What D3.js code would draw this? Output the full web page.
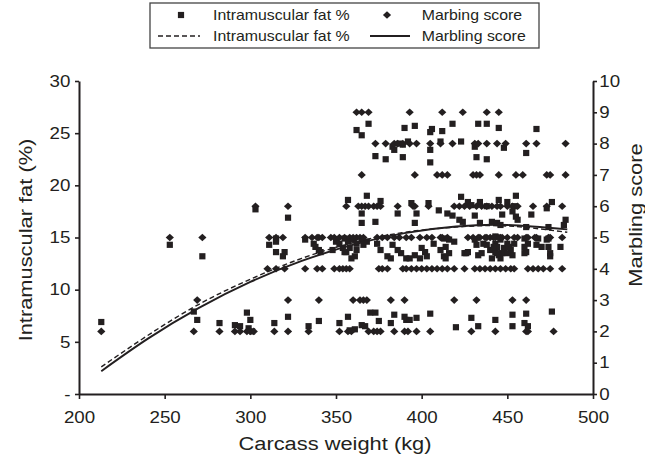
<!DOCTYPE html>
<html>
<head>
<meta charset="utf-8">
<script src="https://cdn.jsdelivr.net/npm/d3@7"></script>
<style>
body { margin: 0; background: #fff; }
text { font-family: "Liberation Sans", Arial, sans-serif; fill: #231f20; }
</style>
</head>
<body>
<svg id="chart" width="645" height="456"></svg>
<script>
// tick labels
const xTicks = [200, 250, 300, 350, 400, 450, 500];
const imfTicks = [0, 5, 10, 15, 20, 25, 30];
const msTicks = [0, 1, 2, 3, 4, 5, 6, 7, 8, 9, 10];

// intramuscular fat %, [carcass weight, imf]
const imfPoints = [
    [213, 6.9], [253, 14.3], [272, 13.2], [267, 7.9], [269, 7.1], [282, 6.8], [291, 6.6], [294, 6.5],
    [298, 7.8], [300, 7.1], [299, 6.3], [301, 6.0], [303, 17.7], [314, 6.8], [322, 7.4], [322, 16.9],
    [334, 6.5], [340, 7.0], [352, 6.8], [357, 7.4],
    [315, 14.9], [315, 14.6], [311, 14.3], [315, 13.6], [320, 13.6], [319, 13.2],
    [332, 14.8], [337, 14.4], [338, 14.1], [340, 13.8], [341, 13.6], [348, 13.8], [350, 14.6], [352, 14.4],
    [354, 14.0], [356, 13.6], [359, 13.0], [361, 13.2], [362, 13.8], [366, 14.3], [368, 14.6],
    [357, 18.6], [365, 17.3], [365, 16.4], [373, 16.5], [368, 19.0], [376, 18.5], [386, 17.3], [394, 18.3],
    [397, 17.3], [396, 16.4], [404, 18.3], [410, 17.6], [415, 17.3], [418, 17.1], [423, 18.9], [424, 16.5],
    [427, 18.4], [429, 18.1], [431, 17.1], [434, 18.4], [438, 18.0], [434, 16.4], [441, 16.5], [444, 16.4],
    [455, 19.0], [445, 18.6], [450, 18.4], [454, 18.0], [453, 17.5], [455, 17.0], [456, 16.7], [464, 17.2],
    [473, 17.8], [476, 18.4], [422, 16.7], [446, 16.2], [447, 17.2], [461, 16.0], [474, 16.0],
    [413, 14.9], [416, 14.8], [419, 14.6], [414, 14.1], [413, 13.2], [416, 13.5], [426, 13.5], [431, 14.8],
    [432, 14.3], [433, 13.3], [435, 13.5], [436, 14.4], [440, 13.8], [443, 14.4], [444, 14.1], [447, 13.5],
    [450, 14.4], [452, 13.8], [453, 13.3], [460, 14.9], [462, 14.4], [461, 13.6], [467, 14.3], [468, 14.9],
    [470, 14.1], [474, 14.1], [475, 13.2], [473, 14.8],
    [355, 14.9], [357, 14.6], [360, 14.8], [362, 14.4], [365, 14.8], [358, 14.0], [355, 13.6], [374, 14.4],
    [376, 13.8], [380, 13.2], [382, 13.0], [383, 14.3], [386, 13.8], [388, 13.5], [391, 13.0], [393, 13.0],
    [396, 13.3], [399, 13.0], [400, 14.0], [402, 13.6], [403, 13.2], [407, 14.4], [411, 13.8], [414, 13.0],
    [425, 13.5], [427, 13.6], [438, 14.3], [441, 13.0], [443, 13.6], [445, 13.3], [446, 13.0],
    [484, 16.7], [483, 16.2], [481, 14.1], [474, 14.9], [475, 13.5], [460, 14.1], [460, 13.5],
    [443, 15.1], [446, 14.8], [442, 14.1], [448, 14.0], [444, 13.5], [451, 14.1], [454, 14.4], [450, 13.5],
    [476, 7.9], [453, 7.6], [461, 7.7], [443, 7.1], [453, 6.5], [460, 6.8], [462, 6.5], [429, 7.3],
    [361, 6.2], [358, 6.1], [365, 6.6], [367, 6.5], [370, 7.8], [373, 7.8], [375, 7.0], [382, 6.8],
    [384, 7.6], [390, 7.4], [391, 7.1], [393, 7.1], [397, 7.3], [405, 7.7], [420, 6.4], [433, 6.5],
    [369, 25.9], [362, 25.3], [365, 24.8], [390, 25.5], [396, 25.7], [405, 25.1], [406, 25.4], [412, 25.2],
    [418, 25.9], [433, 25.9], [438, 25.9], [445, 25.5], [383, 23.7], [384, 23.4], [387, 24.0], [389, 23.9],
    [392, 24.2], [405, 23.4], [411, 24.2], [373, 22.8], [379, 22.5], [389, 22.7], [405, 22.2], [432, 22.7],
    [438, 22.5], [467, 25.4], [448, 23.6], [461, 23.1], [423, 24.2], [431, 23.7]
];

// marbling score: carcass weights of the animals at each score
const ms2 = [213, 267, 282, 291, 294, 298, 300, 302, 314, 322, 334, 352, 357, 359, 369, 372, 374, 376,
    384, 390, 392, 397, 405, 429, 443, 461, 462, 477];
const ms3 = [269, 322, 340, 360, 364, 366, 368, 382, 390, 419, 432, 453, 461];
const ms4 = [310, 315, 320, 332, 339, 342, 349, 352, 354, 356, 358, 375, 377, 380, 389, 391, 394, 397,
    400, 403, 406, 409, 412, 415, 419, 425, 431, 434, 437, 440, 443, 446, 449, 452, 454, 462, 465, 468,
    471, 475, 482];
const ms5 = [253, 272, 311, 315, 319, 332, 336, 339, 340, 342, 347, 349, 352, 355, 358, 360, 362, 364,
    366, 374, 377, 380, 384, 387, 391, 394, 399, 403, 406, 411, 412, 415, 427, 430, 433, 434, 437, 438,
    440, 442, 443, 445, 446, 447, 450, 454, 456, 461, 462, 466, 467, 474, 475, 482];
const ms6 = [303, 322, 356, 363, 365, 367, 369, 372, 374, 376, 386, 395, 396, 404, 419, 422, 425, 428,
    432, 435, 438, 441, 444, 446, 450, 453, 456, 465, 473, 482];
const ms7 = [365, 396, 409, 412, 415, 430, 432, 434, 445, 455, 459, 473, 475, 484];
const ms8 = [373, 379, 384, 386, 389, 393, 397, 405, 411, 418, 431, 433, 438, 444, 449, 461, 467, 484];
const ms9 = [362, 365, 369, 393, 412, 424, 438, 445];

// fitted curves
const fitWeight = [213, 240, 270, 300, 330, 360, 390, 420, 450, 485];
const imfFit = [2.6, 5.6, 8.6, 11.0, 13.0, 14.5, 15.5, 16.0, 16.1, 15.5];
const msFit = [0.73, 1.76, 2.75, 3.58, 4.25, 4.77, 5.14, 5.35, 5.40, 5.26];

const ink = "#231f20";
const stretch = "scale(1.15,1)";
const squareShape = "M-3.1,-3.1h6.2v6.2h-6.2Z";
const diamondShape = "M0,-3.8L4.1,0L0,3.8L-4.1,0Z";

const margin = { top: 81, right: 52, bottom: 62, left: 79 },
    width = 645 - margin.left - margin.right,
    height = 456 - margin.top - margin.bottom;

const svg = d3.select("#chart");
const g = svg.append("g").attr("transform", "translate(" + margin.left + "," + margin.top + ")");

const x = d3.scaleLinear().domain([200, 500]).range([0, width]);
const yL = d3.scaleLinear().domain([0, 30]).range([height, 0]);
const yR = d3.scaleLinear().domain([0, 10]).range([height, 0]);

function styleAxis(sel) {
    sel.select(".domain").attr("stroke", ink).attr("stroke-width", 2);
    sel.selectAll(".tick line").attr("stroke", ink).attr("stroke-width", 1.6);
    sel.selectAll(".tick text").attr("font-size", 16.3).attr("transform", stretch).style("fill", ink);
}

g.append("g")
    .attr("transform", "translate(0," + height + ")")
    .call(d3.axisBottom(x).tickValues(xTicks).tickSize(5).tickSizeOuter(0).tickPadding(12))
    .call(styleAxis);

g.append("g")
    .call(d3.axisLeft(yL).tickValues(imfTicks).tickSize(4).tickSizeOuter(0).tickPadding(3.5)
        .tickFormat(d => d === 0 ? "-" : d))
    .call(styleAxis);

g.append("g")
    .attr("transform", "translate(" + width + ",0)")
    .call(d3.axisRight(yR).tickValues(msTicks).tickSize(4).tickSizeOuter(0).tickPadding(1.5))
    .call(styleAxis);

// scatter points
g.append("g").selectAll("path")
    .data(imfPoints)
    .join("path")
    .attr("d", squareShape)
    .attr("transform", d => "translate(" + x(d[0]) + "," + yL(d[1]) + ")")
    .attr("fill", ink);

const marbling = [[2, ms2], [3, ms3], [4, ms4], [5, ms5], [6, ms6], [7, ms7], [8, ms8], [9, ms9]]
    .flatMap(([score, weights]) => weights.map(w => [w, score]));

g.append("g").selectAll("path")
    .data(marbling)
    .join("path")
    .attr("d", diamondShape)
    .attr("transform", d => "translate(" + x(d[0]) + "," + yR(d[1]) + ")")
    .attr("fill", ink);

// fitted lines
const imfLine = d3.line().curve(d3.curveNatural).x((d, i) => x(fitWeight[i])).y(d => yL(d));
const msLine = d3.line().curve(d3.curveNatural).x((d, i) => x(fitWeight[i])).y(d => yR(d));

g.append("path").attr("d", imfLine(imfFit))
    .attr("fill", "none").attr("stroke", ink).attr("stroke-width", 1.4).attr("stroke-dasharray", "5,3");
g.append("path").attr("d", msLine(msFit))
    .attr("fill", "none").attr("stroke", ink).attr("stroke-width", 1.9);

// axis titles
svg.append("text")
    .attr("transform", "translate(335,450) " + stretch)
    .attr("text-anchor", "middle").attr("font-size", 19)
    .text("Carcass weight (kg)");
svg.append("text")
    .attr("transform", "translate(32,240) rotate(-90) " + stretch)
    .attr("text-anchor", "middle").attr("font-size", 19)
    .text("Intramuscular fat (%)");
svg.append("text")
    .attr("transform", "translate(642,215) rotate(-90) " + stretch)
    .attr("text-anchor", "middle").attr("font-size", 19)
    .text("Marbling score");

// legend
const legend = svg.append("g");
legend.append("rect")
    .attr("x", 150).attr("y", 3).attr("width", 389).attr("height", 45)
    .attr("fill", "#fff").attr("stroke", "#444").attr("stroke-width", 1.3);

const row1 = 15, row2 = 36;
legend.append("path").attr("d", squareShape).attr("transform", "translate(181," + row1 + ")").attr("fill", ink);
legend.append("path").attr("d", diamondShape).attr("transform", "translate(387," + row1 + ")").attr("fill", ink);
legend.append("line").attr("x1", 158).attr("x2", 200).attr("y1", row2).attr("y2", row2)
    .attr("stroke", ink).attr("stroke-width", 1.4).attr("stroke-dasharray", "5,3");
legend.append("line").attr("x1", 370).attr("x2", 410).attr("y1", row2).attr("y2", row2)
    .attr("stroke", ink).attr("stroke-width", 1.9);

const legendText = [
    ["Intramuscular fat %", 213, row1], ["Marbing score", 421.7, row1],
    ["Intramuscular fat %", 213, row2], ["Marbling score", 421.7, row2]
];
legend.selectAll("text.lt")
    .data(legendText)
    .join("text")
    .attr("class", "lt")
    .attr("transform", d => "translate(" + d[1] + "," + d[2] + ") " + stretch)
    .attr("dy", "0.35em")
    .attr("font-size", 13.8)
    .text(d => d[0]);
</script>
</body>
</html>
